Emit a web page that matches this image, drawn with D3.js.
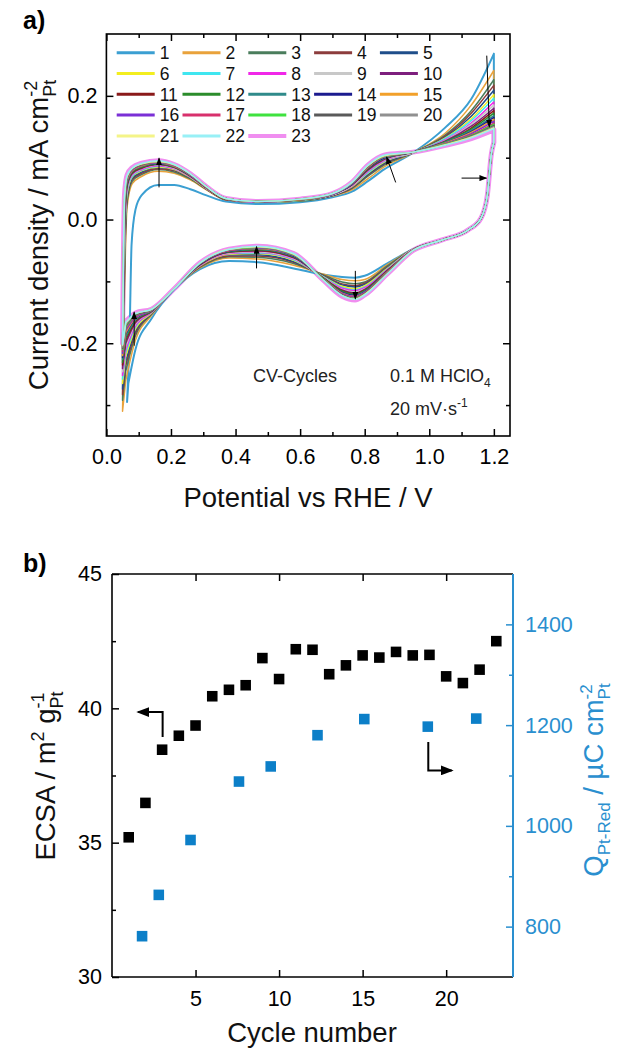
<!DOCTYPE html>
<html>
<head>
<meta charset="utf-8">
<script src="https://cdn.jsdelivr.net/npm/d3@7"></script>
<style>
  body { margin: 0; background: #fff; }
  text { font-family: "Liberation Sans", Arial, sans-serif; }
</style>
</head>
<body>
<div id="chart"></div>
<script>
// ---------- panel a) : CV cycles ----------
var cycles = [1, 2, 3, 4, 5, 6, 7, 8, 9, 10, 11, 12, 13, 14, 15, 16, 17, 18, 19, 20, 21, 22, 23];

// cycle 1 (own potential grid, it starts a bit higher)
var potFwd1 = [0.064, 0.072, 0.078, 0.09, 0.11, 0.16, 0.21, 0.26, 0.31, 0.37, 0.47, 0.6, 0.7, 0.76, 0.81, 0.86, 0.95, 1.05, 1.13, 1.2];
var curFwd1 = [-0.295, -0.18, -0.04, 0.016, 0.04, 0.056, 0.056, 0.049, 0.039, 0.029, 0.025, 0.028, 0.036, 0.045, 0.062, 0.081, 0.108, 0.149, 0.195, 0.268];
var potRev1 = [1.2, 1.192, 1.18, 1.16, 1.12, 1.04, 0.95, 0.87, 0.8, 0.77, 0.73, 0.67, 0.58, 0.47, 0.38, 0.29, 0.21, 0.14, 0.09, 0.068];
var curRev1 = [0.125, 0.105, 0.04, 0.002, -0.017, -0.033, -0.048, -0.071, -0.091, -0.094, -0.093, -0.089, -0.079, -0.069, -0.067, -0.08, -0.113, -0.16, -0.21, -0.265];

// cycles 2..23: one row per potential, one column per cycle (2 ... 23)
var potFwd = [0.05, 0.056, 0.064, 0.08, 0.11, 0.16, 0.21, 0.26, 0.31, 0.37, 0.47, 0.6, 0.7, 0.76, 0.81, 0.86, 0.95, 1.05, 1.13, 1.2];
var fwdCurrent = [
  [-0.31, -0.292, -0.283, -0.274, -0.265, -0.258, -0.252, -0.246, -0.241, -0.235, -0.231, -0.226, -0.223, -0.22, -0.216, -0.213, -0.21, -0.208, -0.206, -0.203, -0.202, -0.2],
  [-0.12, -0.094, -0.08, -0.067, -0.054, -0.045, -0.035, -0.027, -0.019, -0.011, -0.005, 0.002, 0.006, 0.011, 0.016, 0.021, 0.026, 0.029, 0.032, 0.035, 0.037, 0.04],
  [0.02, 0.028, 0.033, 0.037, 0.041, 0.044, 0.048, 0.05, 0.053, 0.055, 0.057, 0.06, 0.061, 0.063, 0.064, 0.066, 0.067, 0.068, 0.069, 0.07, 0.071, 0.072],
  [0.058, 0.062, 0.065, 0.067, 0.069, 0.07, 0.072, 0.073, 0.074, 0.076, 0.077, 0.078, 0.079, 0.079, 0.08, 0.081, 0.082, 0.082, 0.083, 0.083, 0.083, 0.084],
  [0.07, 0.073, 0.075, 0.077, 0.079, 0.08, 0.081, 0.082, 0.083, 0.084, 0.085, 0.086, 0.087, 0.087, 0.088, 0.088, 0.089, 0.089, 0.09, 0.09, 0.091, 0.091],
  [0.078, 0.081, 0.082, 0.084, 0.085, 0.086, 0.087, 0.088, 0.089, 0.09, 0.09, 0.091, 0.091, 0.092, 0.092, 0.093, 0.093, 0.094, 0.094, 0.094, 0.095, 0.095],
  [0.075, 0.077, 0.079, 0.08, 0.081, 0.082, 0.082, 0.083, 0.084, 0.085, 0.085, 0.086, 0.086, 0.086, 0.087, 0.087, 0.088, 0.088, 0.088, 0.089, 0.089, 0.089],
  [0.064, 0.066, 0.067, 0.067, 0.068, 0.069, 0.069, 0.07, 0.07, 0.071, 0.071, 0.072, 0.072, 0.072, 0.072, 0.073, 0.073, 0.073, 0.074, 0.074, 0.074, 0.074],
  [0.048, 0.049, 0.049, 0.05, 0.05, 0.05, 0.051, 0.051, 0.051, 0.051, 0.052, 0.052, 0.052, 0.052, 0.052, 0.052, 0.053, 0.053, 0.053, 0.053, 0.053, 0.053],
  [0.032, 0.032, 0.032, 0.033, 0.033, 0.033, 0.033, 0.033, 0.033, 0.033, 0.033, 0.034, 0.034, 0.034, 0.034, 0.034, 0.034, 0.034, 0.034, 0.034, 0.034, 0.034],
  [0.028, 0.028, 0.028, 0.028, 0.028, 0.028, 0.028, 0.029, 0.029, 0.029, 0.029, 0.029, 0.029, 0.029, 0.029, 0.029, 0.029, 0.029, 0.029, 0.029, 0.029, 0.029],
  [0.03, 0.03, 0.031, 0.031, 0.031, 0.031, 0.032, 0.032, 0.032, 0.032, 0.032, 0.032, 0.032, 0.032, 0.033, 0.033, 0.033, 0.033, 0.033, 0.033, 0.033, 0.033],
  [0.038, 0.039, 0.039, 0.039, 0.04, 0.04, 0.04, 0.04, 0.041, 0.041, 0.041, 0.041, 0.041, 0.041, 0.041, 0.042, 0.042, 0.042, 0.042, 0.042, 0.042, 0.042],
  [0.048, 0.05, 0.051, 0.052, 0.053, 0.054, 0.054, 0.055, 0.056, 0.056, 0.057, 0.057, 0.057, 0.058, 0.058, 0.059, 0.059, 0.059, 0.059, 0.06, 0.06, 0.06],
  [0.066, 0.07, 0.072, 0.073, 0.075, 0.076, 0.078, 0.079, 0.08, 0.081, 0.082, 0.083, 0.083, 0.084, 0.085, 0.085, 0.086, 0.086, 0.087, 0.087, 0.088, 0.088],
  [0.085, 0.088, 0.09, 0.091, 0.093, 0.094, 0.095, 0.096, 0.097, 0.098, 0.099, 0.099, 0.1, 0.101, 0.101, 0.102, 0.102, 0.103, 0.103, 0.103, 0.104, 0.104],
  [0.108, 0.108, 0.108, 0.108, 0.108, 0.108, 0.108, 0.108, 0.109, 0.109, 0.109, 0.109, 0.109, 0.109, 0.109, 0.109, 0.109, 0.109, 0.109, 0.109, 0.109, 0.109],
  [0.14, 0.137, 0.135, 0.133, 0.132, 0.131, 0.129, 0.128, 0.127, 0.126, 0.126, 0.125, 0.124, 0.124, 0.123, 0.122, 0.122, 0.121, 0.121, 0.121, 0.12, 0.12],
  [0.185, 0.176, 0.172, 0.167, 0.163, 0.16, 0.156, 0.154, 0.151, 0.148, 0.146, 0.144, 0.142, 0.141, 0.139, 0.137, 0.136, 0.135, 0.134, 0.133, 0.132, 0.131],
  [0.241, 0.226, 0.217, 0.209, 0.202, 0.196, 0.19, 0.185, 0.18, 0.176, 0.172, 0.168, 0.165, 0.162, 0.159, 0.156, 0.154, 0.152, 0.15, 0.148, 0.147, 0.145]
];
var potRev = [1.2, 1.192, 1.18, 1.16, 1.12, 1.04, 0.95, 0.87, 0.8, 0.77, 0.73, 0.67, 0.58, 0.47, 0.38, 0.29, 0.21, 0.14, 0.09, 0.06];
var revCurrent = [
  [0.125, 0.125, 0.125, 0.125, 0.125, 0.125, 0.125, 0.125, 0.125, 0.125, 0.125, 0.125, 0.125, 0.125, 0.125, 0.125, 0.125, 0.125, 0.125, 0.125, 0.125, 0.125],
  [0.105, 0.105, 0.105, 0.105, 0.105, 0.105, 0.105, 0.105, 0.105, 0.105, 0.105, 0.105, 0.105, 0.105, 0.105, 0.105, 0.105, 0.105, 0.105, 0.105, 0.105, 0.105],
  [0.04, 0.04, 0.04, 0.04, 0.04, 0.04, 0.04, 0.04, 0.04, 0.04, 0.04, 0.04, 0.04, 0.04, 0.04, 0.04, 0.04, 0.04, 0.04, 0.04, 0.04, 0.04],
  [0.002, 0.002, 0.002, 0.002, 0.002, 0.002, 0.002, 0.002, 0.002, 0.002, 0.002, 0.002, 0.002, 0.002, 0.002, 0.002, 0.002, 0.002, 0.002, 0.002, 0.002, 0.002],
  [-0.017, -0.017, -0.017, -0.017, -0.017, -0.017, -0.017, -0.017, -0.017, -0.017, -0.017, -0.017, -0.017, -0.017, -0.017, -0.017, -0.017, -0.017, -0.017, -0.017, -0.017, -0.017],
  [-0.033, -0.033, -0.033, -0.033, -0.033, -0.033, -0.033, -0.033, -0.033, -0.033, -0.033, -0.033, -0.033, -0.033, -0.033, -0.033, -0.033, -0.033, -0.033, -0.033, -0.033, -0.033],
  [-0.048, -0.048, -0.048, -0.048, -0.048, -0.048, -0.048, -0.048, -0.049, -0.049, -0.049, -0.049, -0.049, -0.049, -0.049, -0.049, -0.05, -0.05, -0.05, -0.05, -0.05, -0.05],
  [-0.073, -0.075, -0.077, -0.078, -0.079, -0.08, -0.081, -0.082, -0.082, -0.083, -0.084, -0.084, -0.085, -0.085, -0.086, -0.086, -0.087, -0.087, -0.087, -0.088, -0.088, -0.088],
  [-0.097, -0.101, -0.103, -0.105, -0.107, -0.109, -0.11, -0.112, -0.113, -0.114, -0.115, -0.116, -0.117, -0.118, -0.118, -0.119, -0.12, -0.12, -0.121, -0.121, -0.122, -0.122],
  [-0.099, -0.104, -0.107, -0.109, -0.112, -0.114, -0.115, -0.117, -0.119, -0.12, -0.121, -0.123, -0.123, -0.124, -0.125, -0.126, -0.127, -0.128, -0.128, -0.129, -0.129, -0.13],
  [-0.097, -0.101, -0.104, -0.106, -0.108, -0.11, -0.111, -0.113, -0.114, -0.115, -0.116, -0.118, -0.118, -0.119, -0.12, -0.121, -0.122, -0.122, -0.123, -0.123, -0.123, -0.124],
  [-0.088, -0.089, -0.09, -0.091, -0.092, -0.092, -0.093, -0.093, -0.094, -0.094, -0.094, -0.095, -0.095, -0.095, -0.096, -0.096, -0.096, -0.096, -0.097, -0.097, -0.097, -0.097],
  [-0.074, -0.071, -0.069, -0.068, -0.066, -0.065, -0.064, -0.063, -0.062, -0.061, -0.06, -0.06, -0.059, -0.058, -0.058, -0.057, -0.057, -0.056, -0.056, -0.056, -0.055, -0.055],
  [-0.064, -0.061, -0.059, -0.057, -0.055, -0.054, -0.053, -0.052, -0.051, -0.05, -0.049, -0.048, -0.047, -0.047, -0.046, -0.045, -0.045, -0.044, -0.044, -0.044, -0.043, -0.043],
  [-0.062, -0.06, -0.059, -0.057, -0.056, -0.055, -0.055, -0.054, -0.053, -0.052, -0.052, -0.051, -0.051, -0.05, -0.05, -0.05, -0.049, -0.049, -0.049, -0.048, -0.048, -0.048],
  [-0.078, -0.077, -0.076, -0.075, -0.075, -0.074, -0.074, -0.073, -0.073, -0.073, -0.072, -0.072, -0.072, -0.071, -0.071, -0.071, -0.071, -0.071, -0.07, -0.07, -0.07, -0.07],
  [-0.112, -0.112, -0.112, -0.112, -0.112, -0.112, -0.112, -0.112, -0.112, -0.112, -0.112, -0.112, -0.112, -0.112, -0.112, -0.112, -0.112, -0.112, -0.112, -0.112, -0.112, -0.112],
  [-0.155, -0.153, -0.152, -0.152, -0.151, -0.15, -0.15, -0.149, -0.149, -0.148, -0.148, -0.147, -0.147, -0.147, -0.147, -0.146, -0.146, -0.146, -0.145, -0.145, -0.145, -0.145],
  [-0.195, -0.188, -0.184, -0.18, -0.177, -0.174, -0.172, -0.169, -0.167, -0.165, -0.163, -0.162, -0.16, -0.159, -0.158, -0.156, -0.155, -0.154, -0.153, -0.152, -0.152, -0.151],
  [-0.26, -0.245, -0.236, -0.229, -0.221, -0.215, -0.21, -0.205, -0.2, -0.195, -0.192, -0.188, -0.185, -0.183, -0.179, -0.176, -0.174, -0.172, -0.17, -0.167, -0.166, -0.165]
];

var cvTicksX = [0, 0.2, 0.4, 0.6, 0.8, 1.0, 1.2];
var cvMinorX = [0.1, 0.3, 0.5, 0.7, 0.9, 1.1];
var cvTicksY = [-0.2, 0.0, 0.2];
var cvMinorY = [-0.3, -0.1, 0.1];

// ---------- panel b) : ECSA and charge ----------
var ecsaCycle = [1, 2, 3, 4, 5, 6, 7, 8, 9, 10, 11, 12, 13, 14, 15, 16, 17, 18, 19, 20, 21, 22, 23];
var ecsaValues = [35.2, 36.48, 38.46, 38.98, 39.36, 40.45, 40.69, 40.86, 41.87, 41.09, 42.2, 42.18, 41.27, 41.6, 41.97, 41.89, 42.1, 41.97, 41.99, 41.19, 40.94, 41.44, 42.5];
var chargeCycle = [1.8, 2.8, 4.7, 7.6, 9.5, 12.3, 15.1, 18.9, 21.8];
var chargeValues = [781, 863, 972, 1088, 1118, 1180, 1212, 1197, 1213];

var bTicksX = [5, 10, 15, 20];
var bTicksL = [30, 35, 40, 45];
var bMinorL = [32.5, 37.5, 42.5];
var bTicksR = [800, 1000, 1200, 1400];
var bMinorR = [900, 1100, 1300];

// ---------- styles ----------
var cycleColors = ["#3b9fd2", "#e9a23b", "#4a7d5c", "#8c3c3c", "#1f4e8a", "#f3ee1f", "#3fe6f0", "#f027e8",
  "#c8c8c8", "#7d1f7d", "#8a1a1a", "#2b8c2b", "#2f8a8a", "#1b1b8f", "#f2a02a", "#7b2fd6",
  "#d8306c", "#3fe23f", "#5a5a5a", "#909090", "#f4f488", "#98f0f6", "#f08ef0"];
var FONT = '"Liberation Sans", Arial, sans-serif';
var BLUE = "#2a8fcf";
var SQ_BLUE = "#0c7fc8";

var svg = d3.select("#chart").append("svg").attr("width", 620).attr("height", 1049);

var defs = svg.append("defs");
defs.append("marker").attr("id", "headS").attr("markerUnits", "userSpaceOnUse")
  .attr("markerWidth", 8).attr("markerHeight", 6).attr("refX", 7).attr("refY", 3).attr("orient", "auto")
  .append("path").attr("d", "M0,0L8,3L0,6Z").attr("fill", "#000");
defs.append("marker").attr("id", "headL").attr("markerUnits", "userSpaceOnUse")
  .attr("markerWidth", 13).attr("markerHeight", 10).attr("refX", 11).attr("refY", 5).attr("orient", "auto")
  .append("path").attr("d", "M0,0L13,5L0,10Z").attr("fill", "#000");

function styleAxis(g, color, fontSize) {
  g.select(".domain").remove();
  g.selectAll(".tick line").attr("stroke", color).attr("stroke-width", 1.5);
  g.selectAll(".tick text").attr("fill", color).style("font-size", fontSize || "21.5px").style("font-family", FONT);
}

// ===== panel a =====
var xa = d3.scaleLinear().domain([0, 1.25]).range([106.4, 510]);
var ya = d3.scaleLinear().domain([-0.35, 0.30]).range([436, 34]);
var fmt1 = function (d) { return d.toFixed(1); };

var pa = svg.append("g");
pa.append("g").attr("transform", "translate(0,436)")
  .call(d3.axisBottom(xa).tickValues(cvTicksX).tickSize(-7).tickPadding(13).tickFormat(fmt1))
  .call(styleAxis, "#000");
pa.append("g").attr("transform", "translate(0,436)")
  .call(d3.axisBottom(xa).tickValues(cvMinorX).tickSize(-4).tickFormat(""))
  .call(styleAxis, "#000");
pa.append("g").attr("transform", "translate(0,34)")
  .call(d3.axisTop(xa).tickValues(cvTicksX).tickSize(-7).tickFormat(""))
  .call(styleAxis, "#000");
pa.append("g").attr("transform", "translate(0,34)")
  .call(d3.axisTop(xa).tickValues(cvMinorX).tickSize(-4).tickFormat(""))
  .call(styleAxis, "#000");
pa.append("g").attr("transform", "translate(106.4,0)")
  .call(d3.axisLeft(ya).tickValues(cvTicksY).tickSize(-7).tickPadding(9).tickFormat(fmt1))
  .call(styleAxis, "#000");
pa.append("g").attr("transform", "translate(106.4,0)")
  .call(d3.axisLeft(ya).tickValues(cvMinorY).tickSize(-4).tickFormat(""))
  .call(styleAxis, "#000");
pa.append("g").attr("transform", "translate(510,0)")
  .call(d3.axisRight(ya).tickValues(cvTicksY).tickSize(-7).tickFormat(""))
  .call(styleAxis, "#000");
pa.append("g").attr("transform", "translate(510,0)")
  .call(d3.axisRight(ya).tickValues(cvMinorY).tickSize(-4).tickFormat(""))
  .call(styleAxis, "#000");

defs.append("clipPath").attr("id", "clipA").append("rect")
  .attr("x", 106.4).attr("y", 34).attr("width", 510 - 106.4).attr("height", 402);

// build the 23 loops
var series = [];
series.push({
  cycle: 1,
  fwd: potFwd1.map(function (e, i) { return [e, curFwd1[i]]; }),
  rev: potRev1.map(function (e, i) { return [e, curRev1[i]]; })
});
for (var c = 0; c < 22; c++) {
  series.push({
    cycle: c + 2,
    fwd: potFwd.map(function (e, i) { return [e, fwdCurrent[i][c]]; }),
    rev: potRev.map(function (e, i) { return [e, revCurrent[i][c]]; })
  });
}

var mono = d3.line().x(function (d) { return xa(d[0]); }).y(function (d) { return ya(d[1]); }).curve(d3.curveMonotoneX);
function pt(d) { return xa(d[0]) + "," + ya(d[1]); }
function loopPath(s) {
  var f = s.fwd, r = s.rev;
  return mono(f) + mono(r.slice().reverse()) +
    "M" + pt(f[f.length - 1]) + "L" + pt(r[0]) +
    "M" + pt(r[r.length - 1]) + "L" + pt(f[0]);
}

var curves = pa.append("g").attr("clip-path", "url(#clipA)");
var drawOrder = [series[22]].concat(series.slice(0, 22));
curves.selectAll("path.cv").data(drawOrder).enter().append("path")
  .attr("class", "cv")
  .attr("d", loopPath)
  .attr("fill", "none")
  .attr("stroke", function (d) { return cycleColors[d.cycle - 1]; })
  .attr("stroke-width", function (d) { return d.cycle === 23 ? 5 : (d.cycle === 1 ? 2 : 1.5); })
  .attr("stroke-linecap", "round")
  .attr("stroke-linejoin", "round");

// frame
pa.append("rect").attr("x", 106.4).attr("y", 34).attr("width", 510 - 106.4).attr("height", 402)
  .attr("fill", "none").attr("stroke", "#000").attr("stroke-width", 1.6);

// arrows on the CV
var cvArrows = [
  [[0.163, 0.052], [0.163, 0.099]],
  [[0.465, -0.079], [0.465, -0.044]],
  [[0.086, -0.204], [0.086, -0.150]],
  [[0.896, 0.060], [0.868, 0.101]],
  [[1.100, 0.067], [1.177, 0.067]],
  [[1.178, 0.265], [1.186, 0.150]],
  [[0.771, -0.083], [0.771, -0.128]]
];
pa.selectAll("line.arr").data(cvArrows).enter().append("line")
  .attr("x1", function (d) { return xa(d[0][0]); }).attr("y1", function (d) { return ya(d[0][1]); })
  .attr("x2", function (d) { return xa(d[1][0]); }).attr("y2", function (d) { return ya(d[1][1]); })
  .attr("stroke", "#000").attr("stroke-width", 1).attr("marker-end", "url(#headS)");

// legend
var leg = pa.append("g");
cycles.forEach(function (cy, i) {
  var col = i % 5, row = Math.floor(i / 5);
  var lx = 116.7 + col * 65.8, ly = 52.7 + row * 20.8;
  leg.append("line").attr("x1", lx).attr("x2", lx + 38).attr("y1", ly).attr("y2", ly)
    .attr("stroke", cycleColors[i]).attr("stroke-width", cy === 23 ? 4 : 3);
  leg.append("text").attr("x", lx + 43).attr("y", ly).attr("dy", "0.36em")
    .style("font-size", "17.5px").attr("fill", "#111").text(cy);
});

// annotations
pa.append("text").attr("x", 253).attr("y", 382).style("font-size", "18px").attr("fill", "#222").text("CV-Cycles");
var t1 = pa.append("text").attr("x", 390).attr("y", 382).style("font-size", "18px").attr("fill", "#222");
t1.append("tspan").text("0.1 M HClO");
t1.append("tspan").attr("dy", 5).style("font-size", "12px").text("4");
var t2 = pa.append("text").attr("x", 390).attr("y", 415).style("font-size", "18px").attr("fill", "#222");
t2.append("tspan").text("20 mV\u00b7s");
t2.append("tspan").attr("dy", -8).style("font-size", "12px").text("-1");

// axis titles
pa.append("text").attr("x", 308).attr("y", 507).attr("text-anchor", "middle")
  .style("font-size", "27.5px").attr("fill", "#111").text("Potential vs RHE / V");

function stacked(textSel, base, sup, sub, size) {
  textSel.append("tspan").text(base);
  var s1 = textSel.append("tspan").attr("dy", -11).style("font-size", size).text(sup);
  var w = s1.node().getComputedTextLength();
  textSel.append("tspan").attr("dx", -w).attr("dy", 19).style("font-size", size).text(sub);
}
var ta = pa.append("text").attr("transform", "translate(48,235) rotate(-90)")
  .attr("text-anchor", "middle").style("font-size", "27.5px").attr("fill", "#111");
stacked(ta, "Current density / mA cm", "-2", "Pt", "18px");

pa.append("text").attr("x", 23).attr("y", 29).style("font-size", "25px").style("font-weight", "bold").text("a)");

// ===== panel b =====
var xb = d3.scaleLinear().domain([0, 24]).range([112, 513]);
var ybL = d3.scaleLinear().domain([30, 45]).range([977, 574]);
var ybR = d3.scaleLinear().domain([700, 1500]).range([977, 574]);
var fmtInt = d3.format("d");

var pb = svg.append("g");
pb.append("g").attr("transform", "translate(0,977)")
  .call(d3.axisBottom(xb).tickValues(bTicksX).tickSize(-7).tickPadding(14).tickFormat(fmtInt))
  .call(styleAxis, "#000");
pb.append("g").attr("transform", "translate(0,574)")
  .call(d3.axisTop(xb).tickValues(bTicksX).tickSize(-7).tickFormat(""))
  .call(styleAxis, "#000");
pb.append("g").attr("transform", "translate(112,0)")
  .call(d3.axisLeft(ybL).tickValues(bTicksL).tickSize(-7).tickPadding(10).tickFormat(fmtInt))
  .call(styleAxis, "#000");
pb.append("g").attr("transform", "translate(112,0)")
  .call(d3.axisLeft(ybL).tickValues(bMinorL).tickSize(-4).tickFormat(""))
  .call(styleAxis, "#000");
pb.append("g").attr("transform", "translate(513,0)")
  .call(d3.axisRight(ybR).tickValues(bTicksR).tickSize(-7).tickPadding(12).tickFormat(fmtInt))
  .call(styleAxis, BLUE);
pb.append("g").attr("transform", "translate(513,0)")
  .call(d3.axisRight(ybR).tickValues(bMinorR).tickSize(-4).tickFormat(""))
  .call(styleAxis, BLUE);

// frame of panel b
pb.append("line").attr("x1", 112).attr("x2", 513).attr("y1", 574).attr("y2", 574).attr("stroke", "#000").attr("stroke-width", 1.6);
pb.append("line").attr("x1", 112).attr("x2", 513).attr("y1", 977).attr("y2", 977).attr("stroke", "#000").attr("stroke-width", 1.6);
pb.append("line").attr("x1", 112).attr("x2", 112).attr("y1", 574).attr("y2", 977).attr("stroke", "#000").attr("stroke-width", 1.6);
pb.append("line").attr("x1", 513).attr("x2", 513).attr("y1", 574).attr("y2", 977).attr("stroke", BLUE).attr("stroke-width", 2);

var square = d3.symbol(d3.symbolSquare, 112);
pb.selectAll("path.ecsa").data(ecsaCycle).enter().append("path").attr("class", "ecsa")
  .attr("d", square)
  .attr("transform", function (d, i) { return "translate(" + xb(d) + "," + ybL(ecsaValues[i]) + ")"; })
  .attr("fill", "#000");
pb.selectAll("path.charge").data(chargeCycle).enter().append("path").attr("class", "charge")
  .attr("d", square)
  .attr("transform", function (d, i) { return "translate(" + xb(d) + "," + ybR(chargeValues[i]) + ")"; })
  .attr("fill", SQ_BLUE);

// axis-pointing arrows
var bArrows = [
  [[3.03, 38.93], [3.03, 39.86], [1.57, 39.86]],
  [[18.93, 38.75], [18.93, 37.69], [20.33, 37.69]]
];
var bLine = d3.line().x(function (d) { return xb(d[0]); }).y(function (d) { return ybL(d[1]); });
pb.selectAll("path.barr").data(bArrows).enter().append("path")
  .attr("d", bLine).attr("fill", "none").attr("stroke", "#000").attr("stroke-width", 2)
  .attr("marker-end", "url(#headL)");

// titles
pb.append("text").attr("x", 312).attr("y", 1042).attr("text-anchor", "middle")
  .style("font-size", "27.5px").attr("fill", "#111").text("Cycle number");

var tl = pb.append("text").attr("transform", "translate(55,776) rotate(-90)")
  .attr("text-anchor", "middle").style("font-size", "27.5px").attr("fill", "#111");
tl.append("tspan").text("ECSA / m");
tl.append("tspan").attr("dy", -11).style("font-size", "18px").text("2");
tl.append("tspan").attr("dy", 11).text(" g");
var sb = tl.append("tspan").attr("dy", 8).style("font-size", "18px").text("Pt");
var wsb = sb.node().getComputedTextLength();
tl.append("tspan").attr("dx", -wsb).attr("dy", -19).style("font-size", "18px").text("-1");

var tr = pb.append("text").attr("transform", "translate(603,780) rotate(-90)")
  .attr("text-anchor", "middle").style("font-size", "27.5px").attr("fill", BLUE);
tr.append("tspan").text("Q");
tr.append("tspan").attr("dy", 7).style("font-size", "17px").text("Pt-Red");
tr.append("tspan").attr("dy", -7).text(" / \u00b5C cm");
var s2 = tr.append("tspan").attr("dy", -11).style("font-size", "17px").text("-2");
var ws2 = s2.node().getComputedTextLength();
tr.append("tspan").attr("dx", -ws2).attr("dy", 18).style("font-size", "17px").text("Pt");

pb.append("text").attr("x", 23).attr("y", 572).style("font-size", "25px").style("font-weight", "bold").text("b)");
</script>
</body>
</html>
